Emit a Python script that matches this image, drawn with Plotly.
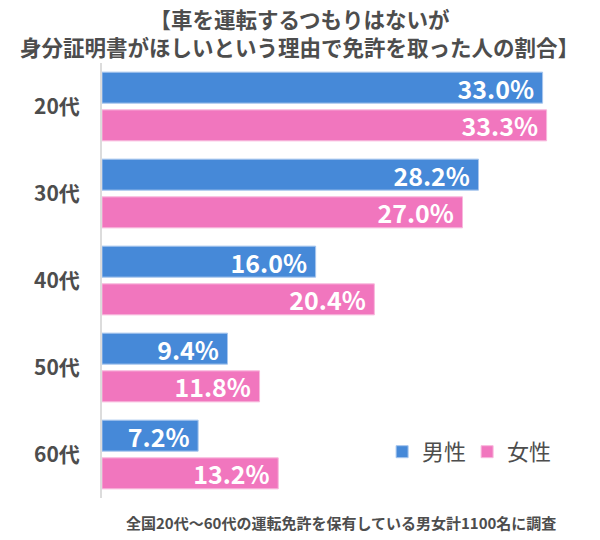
import plotly.graph_objects as go

# data
ages = ['20代', '30代', '40代', '50代', '60代']
male = [33.0, 28.2, 16.0, 9.4, 7.2]
female = [33.3, 27.0, 20.4, 11.8, 13.2]

title_lines = ['【車を運転するつもりはないが', '身分証明書がほしいという理由で免許を取った人の割合】']
note = '全国20代～60代の運転免許を保有している男女計1100名に調査'

BLUE = '#4689d8'
PINK = '#f176be'
GREY = '#4d4d4d'
JP = 'Noto Sans CJK JP'

fig = go.Figure()
for name, vals, col, edge in [('男性', male, BLUE, '#a7c6ee'), ('女性', female, PINK, '#f8b9dd')]:
    fig.add_trace(go.Bar(
        y=ages, x=vals, name=name, orientation='h',
        marker=dict(color=col, line=dict(color=edge, width=1)),
        texttemplate='<b>%{x:.1f}%</b>\u00a0',
        textposition='inside', insidetextanchor='end', textangle=0,
        constraintext='none',
        textfont=dict(family=JP, size=25, color='white'),
        hoverinfo='skip',
    ))

# two-line title as one annotation (plot area is 63..498 px)
fig.add_annotation(
    text='<b>' + '<br>'.join(title_lines) + '</b>', xref='paper', yref='paper',
    x=0.404, y=1.069, xanchor='center', yanchor='middle', align='center',
    showarrow=False, font=dict(family=JP, size=21.5, color=GREY),
)

fig.add_annotation(
    text='<b>' + note + '</b>', xref='paper', yref='paper',
    x=0.49, y=-0.057, xanchor='center', yanchor='middle',
    showarrow=False, font=dict(family=JP, size=15, color=GREY),
)

fig.update_layout(
    width=600, height=540,
    margin=dict(l=102, r=10, t=63, b=42, autoexpand=False),
    paper_bgcolor='white', plot_bgcolor='white',
    barmode='group', bargap=0.133, bargroupgap=0.178,
    xaxis=dict(range=[0, 36.55], visible=False, fixedrange=True),
    yaxis=dict(
        autorange='reversed', showgrid=False, zeroline=False,
        showline=True, linecolor='#dcdcdc', linewidth=2,
        ticks='', ticklabelstandoff=16, automargin=False,
        tickprefix='<b>', ticksuffix='</b>',
        tickfont=dict(family=JP, size=21, color=GREY),
    ),
    legend=dict(
        orientation='h', x=0.574, y=0.106, xanchor='left', yanchor='middle',
        entrywidth=40,
        font=dict(family=JP, size=22, color=GREY), traceorder='normal',
        bgcolor='rgba(0,0,0,0)',
    ),
    showlegend=True,
)

# drop the browser's default body margin so the figure sits at the page corner
fig.write_html('out.html', config={'displayModeBar': False},
               post_script="document.body.style.margin='0';")
